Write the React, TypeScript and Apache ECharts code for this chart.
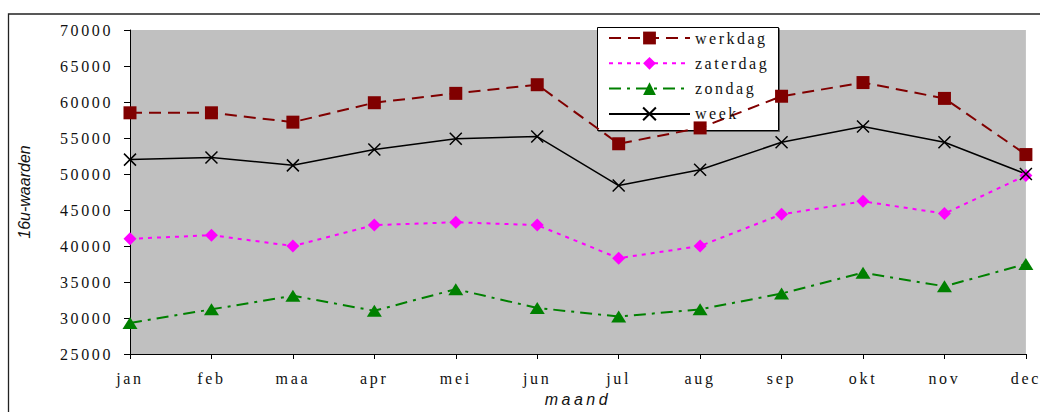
import React, { useEffect, useRef } from "react";
import * as echarts from "echarts";

const months = ["jan", "feb", "maa", "apr", "mei", "jun", "jul", "aug", "sep", "okt", "nov", "dec"];
const werkdag = [58500, 58500, 57200, 59900, 61200, 62400, 54200, 56400, 60800, 62700, 60500, 52700];
const zaterdag = [41000, 41500, 40000, 42900, 43300, 42900, 38300, 40000, 44400, 46200, 44500, 49800];
const zondag = [29300, 31200, 33100, 31000, 34000, 31400, 30200, 31200, 33400, 36300, 34400, 37500];
const week = [52000, 52300, 51200, 53400, 54900, 55200, 48400, 50600, 54400, 56600, 54400, 50000];
const yMin = 25000;
const yMax = 70000;
const yStep = 5000;

const SERIF = "Liberation Serif";

export default function App() {
  const ref = useRef<HTMLDivElement>(null);
  useEffect(() => {
    if (!ref.current) return;
    const chart = echarts.init(ref.current, null, { renderer: "svg" });
    chart.setOption({
      animation: false,
      backgroundColor: "#ffffff",
      grid: {
        left: 130,
        top: 30,
        right: 11,
        bottom: 55,
        show: true,
        backgroundColor: "#C0C0C0",
        borderWidth: 0,
      },
      graphic: [
        {
          type: "rect",
          z: 1,
          shape: { x: 8.5, y: 14, width: 1100, height: 500 },
          style: { fill: "none", stroke: "#222", lineWidth: 1.3 },
        },
        {
          type: "rect",
          z: 3,
          shape: { x: 597.5, y: 27.5, width: 181, height: 103 },
          style: { fill: "#ffffff", stroke: "#000", lineWidth: 1, shadowColor: "rgba(0,0,0,0.5)", shadowOffsetX: 1, shadowOffsetY: 1 },
        },
      ],
      legend: {
        z: 4,
        orient: "vertical",
        left: 597,
        top: 27,
        padding: [3, 0, 0, 11],
        itemWidth: 81,
        itemHeight: 16,
        itemGap: 9.3,
        backgroundColor: "transparent",
        textStyle: { fontFamily: SERIF, fontSize: 16, color: "#111" },
        data: ["werkdag", "zaterdag", "zondag", "week"],
      },
      xAxis: {
        type: "category",
        data: months,
        boundaryGap: false,
        name: "maand",
        nameLocation: "middle",
        nameGap: 37,
        nameTextStyle: { fontFamily: "Liberation Sans", fontStyle: "italic", fontSize: 16, color: "#111" },
        axisLine: { lineStyle: { color: "#000", width: 1 } },
        axisTick: { show: true, length: 5, lineStyle: { color: "#000" } },
        axisLabel: { fontFamily: SERIF, fontSize: 16, color: "#111", margin: 16, interval: 0 },
        splitLine: { show: false },
      },
      yAxis: {
        type: "value",
        min: yMin,
        max: yMax,
        interval: yStep,
        name: "16u-waarden",
        nameLocation: "middle",
        nameGap: 98,
        nameTextStyle: { fontFamily: "Arial", fontStyle: "italic", fontSize: 16, color: "#111" },
        axisLine: { show: true, lineStyle: { color: "#000", width: 1 } },
        axisTick: { show: true, length: 6, inside: false, lineStyle: { color: "#000" } },
        axisLabel: {
          fontFamily: SERIF,
          fontSize: 16,
          color: "#111",
          margin: 17,
          formatter: (v: number) => String(v),
        },
        splitLine: { show: false },
      },
      series: [
        {
          name: "werkdag",
          type: "line",
          data: werkdag,
          symbol: "rect",
          symbolSize: 13,
          itemStyle: { color: "#800000" },
          lineStyle: { color: "#800000", width: 2, type: [12, 7] },
        },
        {
          name: "zaterdag",
          type: "line",
          data: zaterdag,
          symbol: "diamond",
          symbolSize: 13,
          itemStyle: { color: "#FF00FF" },
          lineStyle: { color: "#FF00FF", width: 2, type: [4, 5] },
        },
        {
          name: "zondag",
          type: "line",
          data: zondag,
          symbol: "triangle",
          symbolSize: [15, 12],
          itemStyle: { color: "#008000" },
          lineStyle: { color: "#008000", width: 2, type: [12, 6, 3, 6] },
        },
        {
          name: "week",
          type: "line",
          data: week,
          symbol: "path://M0,0L10,10M0,10L10,0",
          symbolSize: 12,
          itemStyle: { color: "#000", borderColor: "#000", borderWidth: 1.5 },
          lineStyle: { color: "#000", width: 1.5, type: "solid" },
        },
      ],
    });
    return () => chart.dispose();
  }, []);
  return (
    <>
      <style>{`
        #root svg text[text-anchor="end"][style*="Serif"] { letter-spacing: 2.6px; }
        #root svg text[text-anchor="middle"][style*="Serif"] { letter-spacing: 2.7px; }
        #root svg text[text-anchor="start"][style*="Serif"] { letter-spacing: 2.5px; }
        #root svg text[style*="Liberation Sans"] { letter-spacing: 3.5px; }
      `}</style>
      <div ref={ref} style={{ position: "absolute", left: 0, top: 0, width: 1040, height: 412 }} />
    </>
  );
}
